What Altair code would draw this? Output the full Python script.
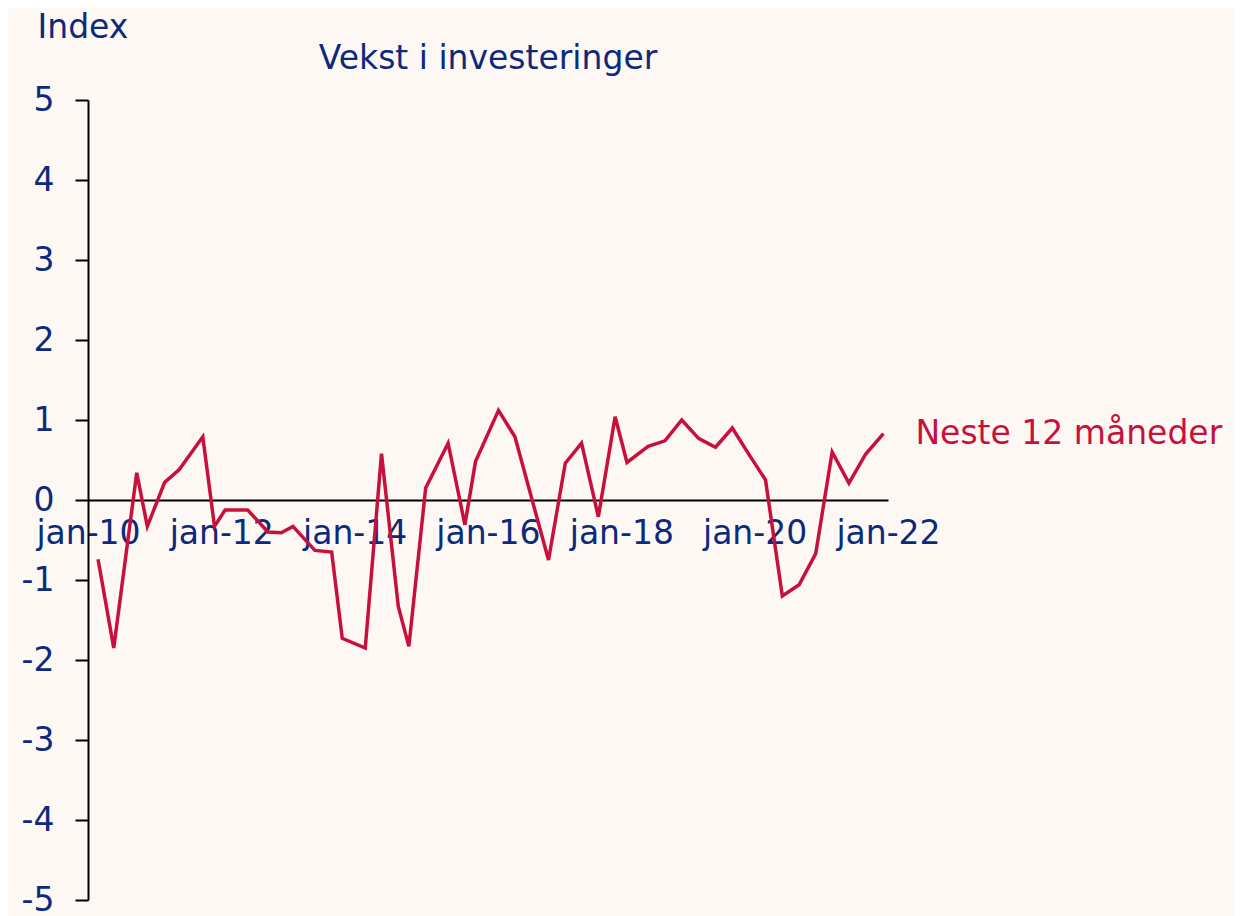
import altair as alt
import pandas as pd

dates = [
    "2010-02-25", "2010-05-22", "2010-09-25", "2010-11-22",
    "2011-02-25", "2011-05-16", "2011-09-22", "2011-11-25",
    "2012-01-22", "2012-03-25", "2012-05-25", "2012-09-13", "2012-11-25",
    "2013-01-28", "2013-05-28", "2013-08-28", "2013-10-25",
    "2014-02-28", "2014-05-28", "2014-08-28", "2014-10-25",
    "2015-01-25", "2015-05-28", "2015-08-28", "2015-10-25",
    "2016-02-28", "2016-05-28", "2016-08-28", "2016-11-28",
    "2017-02-28", "2017-05-28", "2017-08-28", "2017-11-28",
    "2018-02-01", "2018-05-28", "2018-08-28", "2018-11-28",
    "2019-02-28", "2019-06-01", "2019-09-01", "2019-12-01",
    "2020-03-01", "2020-06-01", "2020-09-01", "2020-12-01",
    "2021-03-01", "2021-06-01", "2021-09-01", "2021-12-07",
]
values = [
    -0.74, -1.85, 0.34, -0.33,
    0.22, 0.38, 0.79, -0.33,
    -0.125, -0.125, -0.125, -0.40, -0.41,
    -0.33, -0.63, -0.65, -1.73,
    -1.85, 0.58, -1.33, -1.83,
    0.15, 0.71, -0.31, 0.48,
    1.12, 0.79, 0.02, -0.75,
    0.46, 0.71, -0.21, 1.04,
    0.47, 0.67, 0.74, 1.00,
    0.77, 0.66, 0.90, 0.57,
    0.25, -1.20, -1.06, -0.67,
    0.60, 0.21, 0.575, 0.83,
]
series_label = "Neste 12 måneder"
title_text = "Vekst i investeringer"
y_title = "Index"
y_ticks = [-5, -4, -3, -2, -1, 0, 1, 2, 3, 4, 5]
x_tick_years = [2010, 2012, 2014, 2016, 2018, 2020, 2022]

df = pd.DataFrame({"date": dates, "value": values})
last = df.tail(1).assign(label=series_label)

NAVY = "#0b2a7c"
RED = "#c8103c"
FONT = "DejaVu Sans"
FS = 33

x_scale = alt.Scale(
    domain=[alt.DateTime(year=2010, month=1, date=1), alt.DateTime(year=2022, month=1, date=1)],
    nice=False,
)
y_scale = alt.Scale(domain=[-5, 5], nice=False, zero=False)

x_axis = alt.Axis(
    title=None,
    values=[alt.DateTime(year=y, month=1, date=1) for y in x_tick_years],
    labelExpr="'jan-' + timeFormat(datum.value, '%y')",
    ticks=False,
    grid=False,
    offset=-400,
    domainColor="black",
    domainWidth=2,
    labelColor=NAVY,
    labelFont=FONT,
    labelFontSize=FS,
    labelPadding=17,
    labelOverlap=False,
    labelFlush=False,
)
y_axis = alt.Axis(
    title=y_title,
    values=y_ticks,
    labelExpr="'' + datum.value",
    grid=False,
    domainColor="black",
    domainWidth=2,
    tickColor="black",
    tickWidth=2,
    tickSize=13,
    labelColor=NAVY,
    labelFont=FONT,
    labelFontSize=FS,
    labelPadding=21,
    titleAngle=0,
    titleAlign="left",
    titleBaseline="alphabetic",
    titleX=-51,
    titleY=-63,
    titleColor=NAVY,
    titleFont=FONT,
    titleFontSize=FS,
    titleFontWeight="normal",
)

line = alt.Chart(df).mark_line(color=RED, strokeWidth=3.5, clip=False).encode(
    x=alt.X("date:T", scale=x_scale, axis=x_axis),
    y=alt.Y("value:Q", scale=y_scale, axis=y_axis),
)

label = alt.Chart(last).mark_text(
    align="left", baseline="middle", dx=32, color=RED, font=FONT, fontSize=FS
).encode(
    x=alt.X("date:T", scale=x_scale),
    y=alt.Y("value:Q", scale=y_scale),
    text="label:N",
)

title = alt.Chart(pd.DataFrame({"t": [title_text]})).mark_text(
    align="center", baseline="alphabetic", color=NAVY, font=FONT, fontSize=FS
).encode(
    x=alt.value(400),
    y=alt.value(-31),
    text="t:N",
)

chart = (
    alt.layer(line, label, title)
    .properties(
        width=800,
        height=800,
        background="#fdf8f4",
        padding={"left": 80, "top": 92, "right": 346, "bottom": 18},
        autosize=alt.AutoSizeParams(type="none"),
    )
    .configure_view(stroke=None)
)

chart.save("out.html", embed_options={"renderer": "svg", "actions": False})
